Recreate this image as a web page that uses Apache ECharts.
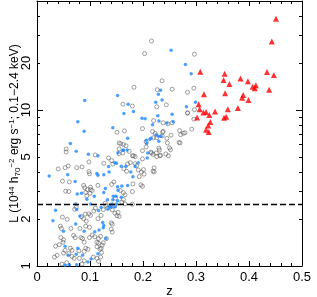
<!DOCTYPE html>
<html><head><meta charset="utf-8">
<script src="https://cdn.jsdelivr.net/npm/echarts@6/dist/echarts.min.js"></script>
<style>html,body{margin:0;padding:0;background:#fff}#c{width:317px;height:297px}</style>
</head><body><div id="c"></div>
<script>
// z, L (10^44 h70^-2 erg/s)
const openCircles = [
[0.216,27.7],[0.203,23],[0.183,14.0],[0.227,13.5],[0.162,10.9],[0.180,10.6],[0.220,8.55],[0.199,7.6],[0.151,7.2],[0.165,7.35],
[0.155,6.15],[0.163,6.0],[0.168,5.9],[0.220,6.65],[0.226,6.65],[0.206,6.25],[0.297,22.8],[0.236,15.4],[0.255,13.6],[0.284,13.0],
[0.296,13.8],[0.244,10.8],[0.226,10.5],[0.284,9.6],[0.297,10.05],[0.247,8.15],[0.255,8.28],[0.292,7.54],[0.237,7.2],[0.223,7.1],
[0.253,6.9],[0.246,6.15],[0.269,7.38],[0.276,7.1],[0.271,6.95],[0.279,7.15],[0.268,6.2],[0.270,6.15],[0.250,5.72],[0.230,5.70],
[0.252,5.56],[0.215,5.37],[0.225,5.3],[0.233,5.13],[0.221,4.26],[0.221,4.01],[0.248,5.09],[0.284,9.55],[0.238,8.28],[0.296,8.75],
[0.218,7.28],[0.238,7.3],[0.158,6.08],[0.199,5.49],[0.206,5.8],[0.236,6.83],[0.245,6.58],[0.231,5.54],[0.216,5.3],[0.182,5.09],
[0.155,5.63],[0.155,5.25],[0.055,5.63],[0.055,5.38],[0.059,4.38],[0.053,4.27],[0.040,4.19],[0.075,4.27],[0.085,4.32],[0.098,4.65],
[0.098,4.03],[0.099,3.9],[0.048,3.5],[0.061,3.46],[0.054,3.02],[0.060,3.0],[0.090,3.18],[0.095,3.09],[0.101,3.09],[0.092,2.96],
[0.104,3.05],[0.100,2.92],[0.094,2.82],[0.110,5.15],[0.115,3.29],[0.135,4.93],[0.141,4.74],[0.143,4.5],[0.126,4.55],[0.162,5.3],
[0.174,5.43],[0.180,5.09],[0.185,5.03],[0.199,4.86],[0.219,5.2],[0.226,5.03],[0.232,5.09],[0.243,5.23],[0.171,4.51],[0.176,4.6],
[0.185,4.53],[0.188,4.4],[0.164,4.2],[0.169,4.05],[0.191,4.13],[0.197,4.0],[0.201,4.15],[0.202,3.88],[0.219,4.06],[0.193,3.74],
[0.145,3.46],[0.141,3.34],[0.181,3.36],[0.196,3.31],[0.199,3.24],[0.157,3.05],[0.163,2.95],[0.166,2.86],[0.180,3.0],[0.148,2.72],
[0.163,2.67],[0.160,2.57],[0.166,2.5],[0.180,2.49],[0.129,2.53],[0.130,2.44],[0.138,2.45],[0.147,2.43],[0.048,2.06],[0.057,1.99],
[0.084,2.07],[0.088,2.01],[0.093,1.94],[0.098,2.16],[0.101,2.11],[0.107,2.25],[0.110,2.35],[0.115,2.01],[0.121,2.11],[0.044,1.80],
[0.046,1.74],[0.064,1.74],[0.092,1.80],[0.099,1.77],[0.081,1.74],[0.104,1.58],[0.109,1.54],[0.116,1.50],[0.120,1.55],[0.045,1.52],
[0.050,1.47],[0.049,1.42],[0.069,1.57],[0.086,1.50],[0.089,1.42],[0.035,1.34],[0.042,1.37],[0.063,1.30],[0.066,1.26],[0.092,1.30],
[0.096,1.28],[0.113,1.33],[0.119,1.28],[0.033,1.14],[0.038,1.17],[0.050,1.21],[0.066,1.15],[0.070,1.12],[0.080,1.12],[0.089,1.08],
[0.085,1.03],[0.106,1.14],[0.113,1.12],[0.116,1.07],[0.047,1.03],[0.056,1.05],[0.125,2.30],[0.133,2.35],[0.142,2.29],[0.147,2.18],
[0.153,2.21],[0.151,2.10],[0.155,2.08],[0.140,1.89],[0.142,1.85],[0.140,1.72],[0.142,1.65],[0.131,1.50],[0.125,1.41],[0.123,1.36],
[0.121,1.30],[0.122,1.22],[0.120,1.14],[0.088,3.29],[0.101,3.2],[0.074,2.38],[0.071,2.31],[0.091,2.15],[0.072,1.52],[0.083,1.52],
[0.099,1.52],[0.113,1.42],[0.116,1.40],[0.079,1.25],[0.089,1.24],[0.053,1.26],[0.060,1.20]
];
const blueDots = [
[0.090,11.5],[0.152,12.4],[0.172,10.9],[0.164,9.5],[0.182,9.8],[0.077,8.4],[0.089,7.3],[0.143,7.7],[0.198,8.85],[0.204,8.8],
[0.171,6.6],[0.063,6.1],[0.253,24.2],[0.280,19.6],[0.291,17.1],[0.233,13.4],[0.229,12.6],[0.236,11.6],[0.224,11.2],[0.299,11.2],
[0.282,10.5],[0.255,9.4],[0.228,9.2],[0.257,8.4],[0.245,8.25],[0.218,8.05],[0.230,8.5],[0.225,6.95],[0.229,6.8],[0.234,6.8],
[0.230,6.3],[0.215,6.6],[0.213,6.5],[0.206,6.4],[0.207,6.1],[0.163,5.55],[0.170,5.55],[0.209,5.3],[0.074,5.45],[0.097,5.2],
[0.153,5.33],[0.162,5.5],[0.115,5.1],[0.023,3.78],[0.058,3.84],[0.072,3.48],[0.113,3.92],[0.115,3.82],[0.084,2.93],[0.076,2.89],
[0.108,2.8],[0.094,2.68],[0.101,2.5],[0.073,2.5],[0.135,4.35],[0.126,3.84],[0.136,4.0],[0.147,4.6],[0.150,4.55],[0.159,4.36],
[0.168,4.36],[0.185,4.34],[0.177,4.0],[0.191,4.6],[0.208,4.93],[0.181,3.74],[0.171,3.28],[0.160,3.26],[0.152,3.22],[0.129,3.14],
[0.126,2.96],[0.153,3.06],[0.144,2.8],[0.149,2.8],[0.133,2.66],[0.143,2.66],[0.152,2.62],[0.159,2.76],[0.142,2.5],[0.150,2.5],
[0.134,2.32],[0.147,2.4],[0.035,2.28],[0.030,1.95],[0.075,2.30],[0.116,2.27],[0.081,2.09],[0.073,1.86],[0.050,1.67],[0.089,1.67],
[0.109,1.66],[0.117,1.70],[0.053,1.34],[0.077,1.30],[0.074,1.19],[0.086,1.17],[0.059,1.17],[0.115,1.20],[0.102,1.11],[0.096,1.06],
[0.075,1.02],[0.053,1.01],[0.061,1.02],[0.121,2.37],[0.137,2.41],[0.140,2.38],[0.124,1.90],[0.126,1.82],[0.125,1.76],[0.130,1.50]
];
const redTriangles = [
[0.451,38.5],[0.443,27.5],[0.308,17.6],[0.354,17.1],[0.352,15.6],[0.363,14.7],[0.384,15.9],[0.398,15.3],[0.434,17.5],[0.447,16.8],
[0.413,14.4],[0.407,14.1],[0.411,13.8],[0.438,13.5],[0.315,12.6],[0.355,12.8],[0.389,12.5],[0.387,12.0],[0.399,11.6],[0.305,10.9],
[0.307,10.1],[0.379,10.3],[0.360,10.1],[0.336,9.8],[0.314,9.65],[0.319,9.7],[0.325,9.3],[0.302,8.97],[0.353,8.93],[0.357,9.06],
[0.327,8.38],[0.323,7.97],[0.319,7.48],[0.324,7.23]
];
const thresholdL = 2.5;
const yLabelValues = [1, 2, 5, 10, 20];
const yMajorTicks = [1, 10];
const yMinorTicks = [2, 3, 4, 5, 6, 7, 8, 9, 20, 30, 40];
const xRange = [0, 0.5];
const yRange = [1, 50];

const FONT = 'Liberation Sans, Arial, sans-serif';
const chart = echarts.init(document.getElementById('c'), null, {renderer: 'canvas'});

function xAx(pos, showLabels) {
  return {
    type: 'value', position: pos, min: xRange[0], max: xRange[1], interval: 0.1,
    axisLine: {show: true, onZero: false, lineStyle: {color: '#000', width: 1}},
    axisTick: {show: true, inside: true, length: 5, lineStyle: {color: '#000', width: 1}},
    minorTick: {show: true, splitNumber: 5, length: 3, lineStyle: {color: '#000', width: 1}},
    axisLabel: {show: showLabels, color: '#000', fontSize: 13, fontFamily: FONT, margin: 5,
      formatter: v => String(+v.toFixed(2))},
    splitLine: {show: false}, minorSplitLine: {show: false},
    name: showLabels ? 'z' : '', nameLocation: 'middle', nameGap: 19, nameMoveOverlap: false,
    nameTextStyle: {color: '#000', fontSize: 13, fontFamily: FONT}
  };
}
function yAx(pos, ticks, len, showLabels, showLine) {
  const a = {
    type: 'log', logBase: 10, position: pos, min: yRange[0], max: yRange[1],
    axisLine: {show: showLine, onZero: false, lineStyle: {color: '#000', width: 1}},
    axisTick: {show: true, inside: true, length: len, customValues: ticks, lineStyle: {color: '#000', width: 1}},
    axisLabel: {show: showLabels, rotate: 90, color: '#000', fontSize: 13, fontFamily: FONT, margin: 4,
      customValues: yLabelValues, formatter: v => String(v)},
    splitLine: {show: false}
  };
  if (showLabels) {
    a.name = 'L (10{sup|44} h{sub|70}{sup|−2} erg s{sup|−1}; 0.1−2.4 keV)';
    a.nameLocation = 'middle';
    a.nameRotate = 90;
    a.nameGap = 15;
    a.nameMoveOverlap = false;
    a.nameTextStyle = {color: '#000', fontSize: 12, fontFamily: FONT, lineHeight: 14,
      rich: {
        sup: {fontSize: 8, fontFamily: FONT, color: '#000', verticalAlign: 'top', lineHeight: 14, padding: [0, 0, 6, 0]},
        sub: {fontSize: 8, fontFamily: FONT, color: '#000', verticalAlign: 'bottom', lineHeight: 14, padding: [5, 0, 0, 0]}
      }};
  }
  return a;
}

chart.setOption({
  animation: false,
  backgroundColor: '#fff',
  grid: {left: 37, right: 15, top: 1, bottom: 31, containLabel: false, outerBoundsMode: 'none'},
  xAxis: [xAx('bottom', true), xAx('top', false)],
  yAxis: [
    yAx('left', yMajorTicks, 6, true, true),
    yAx('left', yMinorTicks, 3, false, false),
    yAx('right', yMajorTicks, 6, false, true),
    yAx('right', yMinorTicks, 3, false, false)
  ],
  series: [
    {type: 'scatter', name: 'circles', xAxisIndex: 0, yAxisIndex: 0, data: openCircles,
      symbol: 'circle', symbolSize: 4,
      itemStyle: {color: 'rgba(0,0,0,0)', borderColor: '#555', borderWidth: 0.7},
      markLine: {silent: true, symbol: ['none', 'none'], label: {show: false},
        lineStyle: {color: '#000', width: 1.3, type: [6, 3]},
        data: [{yAxis: thresholdL}]}},
    {type: 'scatter', name: 'blue', xAxisIndex: 0, yAxisIndex: 0, data: blueDots,
      symbol: 'circle', symbolSize: 3.5, itemStyle: {color: '#1e88ff'}},
    {type: 'scatter', name: 'red', xAxisIndex: 0, yAxisIndex: 0, data: redTriangles,
      symbol: 'triangle', symbolSize: 6, itemStyle: {color: '#ff0000'}}
  ]
});
</script>
</body></html>
